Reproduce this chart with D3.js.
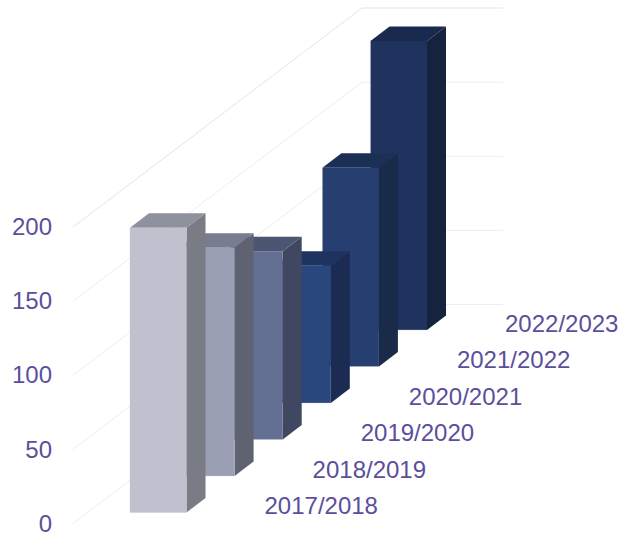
<!DOCTYPE html>
<html>
<head>
<meta charset="utf-8">
<script src="https://cdn.jsdelivr.net/npm/d3@7"></script>
<style>
  html, body { margin: 0; padding: 0; background: #fff; }
  text { font-family: "Liberation Sans", Arial, sans-serif; font-size: 24px; fill: #5b4f9c; }
</style>
</head>
<body>
<svg id="chart"></svg>
<script>
const categories = ['2017/2018', '2018/2019', '2019/2020', '2020/2021', '2021/2022', '2022/2023'];
const values = [192, 154, 127, 92.6, 134, 195];
const yTicks = [0, 50, 100, 150, 200];
const frontColors = ['#bfc2ce', '#9a9fb4', '#636f93', '#2a477d', '#263e70', '#1f335e'];
const sideColors = ['#797c84', '#5f6271', '#3f4860', '#1b2b51', '#1a2a49', '#15233e'];
const topColors = ['#8e929c', '#777d8f', '#4c5673', '#1e3360', '#1c2f55', '#1a2a4e'];

const width = 621, height = 537;
const barWidth = 56.5;
const depth = { x: 19, y: -14.5 };   // oblique offset of a bar's back edge
const wall = { x: 289, y: -219, right: 141 };

const svg = d3.select('#chart').attr('width', width).attr('height', height);

// value -> height on the left edge of the chart
const yScale = d3.scaleLinear().domain([0, 200]).range([523.5, 227]);
const barHeight = v => yScale(0) - yScale(v);

// each category steps back and to the right
const xFront = d3.scalePoint().domain(categories).range([130, 370.5]);
const yBase = d3.scalePoint().domain(categories).range([512.5, 330]);

// Gridlines: slanted along the side wall, then flat along the back wall
svg.append('g').selectAll('path')
  .data(yTicks)
  .join('path')
  .attr('fill', 'none')
  .attr('stroke', d => d === 200 ? '#e3e3f1' : '#ececf5')
  .attr('stroke-width', 1)
  .attr('d', d => {
    const path = d3.path();
    path.moveTo(73, yScale(d));
    path.lineTo(73 + wall.x, yScale(d) + wall.y);
    path.lineTo(73 + wall.x + wall.right, yScale(d) + wall.y);
    return path.toString();
  });

// Bars, drawn back to front so the nearer ones overlap
const rows = categories.map((c, i) => ({ c, i, v: values[i] })).reverse();
const bars = svg.append('g').selectAll('g').data(rows).join('g');

bars.append('polygon')
  .attr('fill', d => sideColors[d.i])
  .attr('points', d => {
    const x = xFront(d.c) + barWidth, b = yBase(d.c), t = b - barHeight(d.v);
    return [[x, b], [x + depth.x, b + depth.y], [x + depth.x, t + depth.y], [x, t]].join(' ');
  });

bars.append('polygon')
  .attr('fill', d => topColors[d.i])
  .attr('points', d => {
    const x = xFront(d.c), t = yBase(d.c) - barHeight(d.v);
    return [[x, t], [x + barWidth, t], [x + barWidth + depth.x, t + depth.y], [x + depth.x, t + depth.y]].join(' ');
  });

bars.append('rect')
  .attr('fill', d => frontColors[d.i])
  .attr('x', d => xFront(d.c))
  .attr('y', d => yBase(d.c) - barHeight(d.v))
  .attr('width', barWidth)
  .attr('height', d => barHeight(d.v));

// thin pale edge on the left and bottom of the front faces
bars.append('polyline')
  .attr('fill', 'none')
  .attr('stroke', '#c8c8e1')
  .attr('stroke-opacity', 0.45)
  .attr('stroke-width', 0.75)
  .attr('points', d => {
    const x = xFront(d.c), b = yBase(d.c), t = b - barHeight(d.v);
    return [[x, t], [x, b], [x + barWidth, b]].join(' ');
  });

// Value axis
const yAxis = d3.axisLeft(yScale).tickValues(yTicks).tickSize(0).tickPadding(0);
const yAxisG = svg.append('g')
  .attr('transform', 'translate(52,0)')
  .call(yAxis);
yAxisG.select('.domain').remove();
yAxisG.selectAll('text').style('font-size', '24px').attr('font-family', null);

// Category labels follow the same diagonal as the bars
svg.append('g').selectAll('text')
  .data(categories)
  .join('text')
  .attr('x', d => xFront(d) + 134.5)
  .attr('y', d => yBase(d) + 1.5)
  .text(d => d);
</script>
</body>
</html>
